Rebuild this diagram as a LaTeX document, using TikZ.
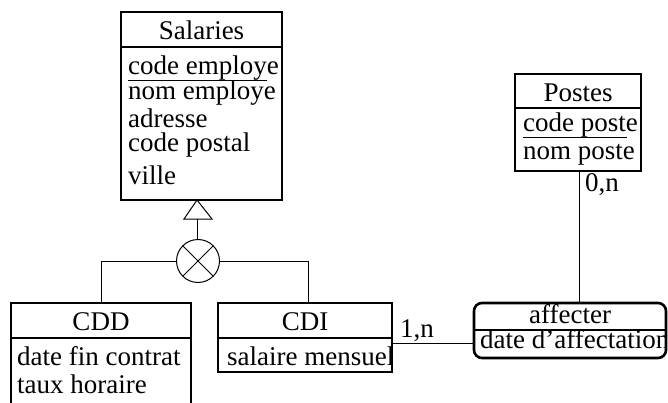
\documentclass[tikz,border=0pt]{standalone}
\usepackage{fontspec}
\setmainfont{Liberation Serif}
\usetikzlibrary{calc,positioning}
\tikzset{
    entity/.style = {draw, rectangle, line width=2.6pt, anchor=north west,
        inner sep=0pt, outer sep=0pt},
    assoc/.style = {entity, rounded corners=8pt},
    attr/.style = {anchor=base west, inner sep=0pt},
    title/.style = {anchor=base, inner sep=0pt},
    sep/.style = {draw, line width=2pt},
    key/.style = {draw, line width=0.9pt},
    link/.style = {draw, line width=1pt},
    card/.style = {anchor=base west, inner sep=0pt},
    xor/.style = {draw, circle, line width=1pt, minimum size=43pt, inner sep=0pt,
        path picture={\draw[line width=1pt]
            (path picture bounding box.south west) -- (path picture bounding box.north east)
            (path picture bounding box.north west) -- (path picture bounding box.south east);}}
}
\newcommand{\boxfont}{\fontsize{27}{30}\selectfont}

\begin{document}
\begin{tikzpicture}[x=1pt, y=-1pt, font=\boxfont]
    \useasboundingbox (0,0) rectangle (668,403);
    % entities
    \node [entity, minimum width=161pt, minimum height=188pt] (sal) at (121,12) {};
    \node [entity, minimum width=126pt, minimum height=97pt] (postes) at (515,74) {};
    \node [entity, minimum width=180pt, minimum height=117pt] (cdd) at (11,303) {};
    \node [entity, minimum width=174pt, minimum height=69pt] (cdi) at (218,303) {};
    \node [assoc, minimum width=192pt, minimum height=55pt] (aff) at (474,303) {};
    \draw [sep] (sal.west |- 0,47) -- (sal.east |- 0,47);
    \draw [sep] (postes.west |- 0,108) -- (postes.east |- 0,108);
    \draw [sep] (cdd.west |- 0,338) -- (cdd.east |- 0,338);
    \draw [sep] (cdi.west |- 0,338) -- (cdi.east |- 0,338);
    \draw [sep] (aff.west |- 0,330) -- (aff.east |- 0,330);

    \begin{scope}
        \clip (sal.north west) rectangle (sal.south east);
        \node [title] (sal-t) at (201.5,40) {Salaries};
        \node [attr] (sal-a1) at (128,75) {code employe};
        \node [attr] (sal-a2) at (128,100) {nom employe};
        \node [attr] (sal-a3) at (128,128) {adresse};
        \node [attr] (sal-a4) at (128,152) {code postal};
        \node [attr] (sal-a5) at (128,185) {ville};
    \end{scope}
    \draw [key] (128,80) -- (267,80);

    \begin{scope}
        \clip (postes.north west) rectangle (postes.south east);
        \node [title] (postes-t) at (578,102) {Postes};
        \node [attr] (postes-a1) at (523,132) {code poste};
        \node [attr] (postes-a2) at (523,160) {nom poste};
    \end{scope}
    \draw [key] (523,137) -- (627,137);

    \begin{scope}
        \clip (cdd.north west) rectangle (cdd.south east);
        \node [title] (cdd-t) at (101,330) {CDD};
        \node [attr] (cdd-a1) at (17,365) {date fin contrat};
        \node [attr] (cdd-a2) at (17,393) {taux horaire};
    \end{scope}

    \begin{scope}
        \clip (cdi.north west) rectangle (cdi.south east);
        \node [title] (cdi-t) at (305,330) {CDI};
        \node [attr] (cdi-a1) at (227,365) {salaire mensuel};
    \end{scope}

    \begin{scope}
        \clip [rounded corners=8pt] (aff.north west) rectangle (aff.south east);
        \node [title] (aff-t) at (570,323) {affecter};
        \node [attr] (aff-a1) at (480,348) {date d'affectation};
    \end{scope}

    % generalisation
    \coordinate (isa) at (197,200);
    \node [xor] (gen) at (198,261) {};
    \draw [link] (isa) -- ++(-13,19) -- ++(28,0) -- cycle;
    \draw [link] ($(isa)+(0,19)$) -- (gen.north -| isa);
    \draw [link] (gen.west) -| (cdd.north);
    \draw [link] (gen.east) -| ([xshift=3pt]cdi.north);

    % association
    \draw [link] ([xshift=1pt]postes.south) -- ([xshift=1pt]postes.south |- aff.north);
    \node [card] (c0n) at (585,192) {0,n};
    \draw [link] ([yshift=-5.5pt]cdi.east) -- ([yshift=-5.5pt]cdi.east -| aff.west);
    \node [card] (c1n) at (400,337) {1,n};
\end{tikzpicture}
\end{document}
